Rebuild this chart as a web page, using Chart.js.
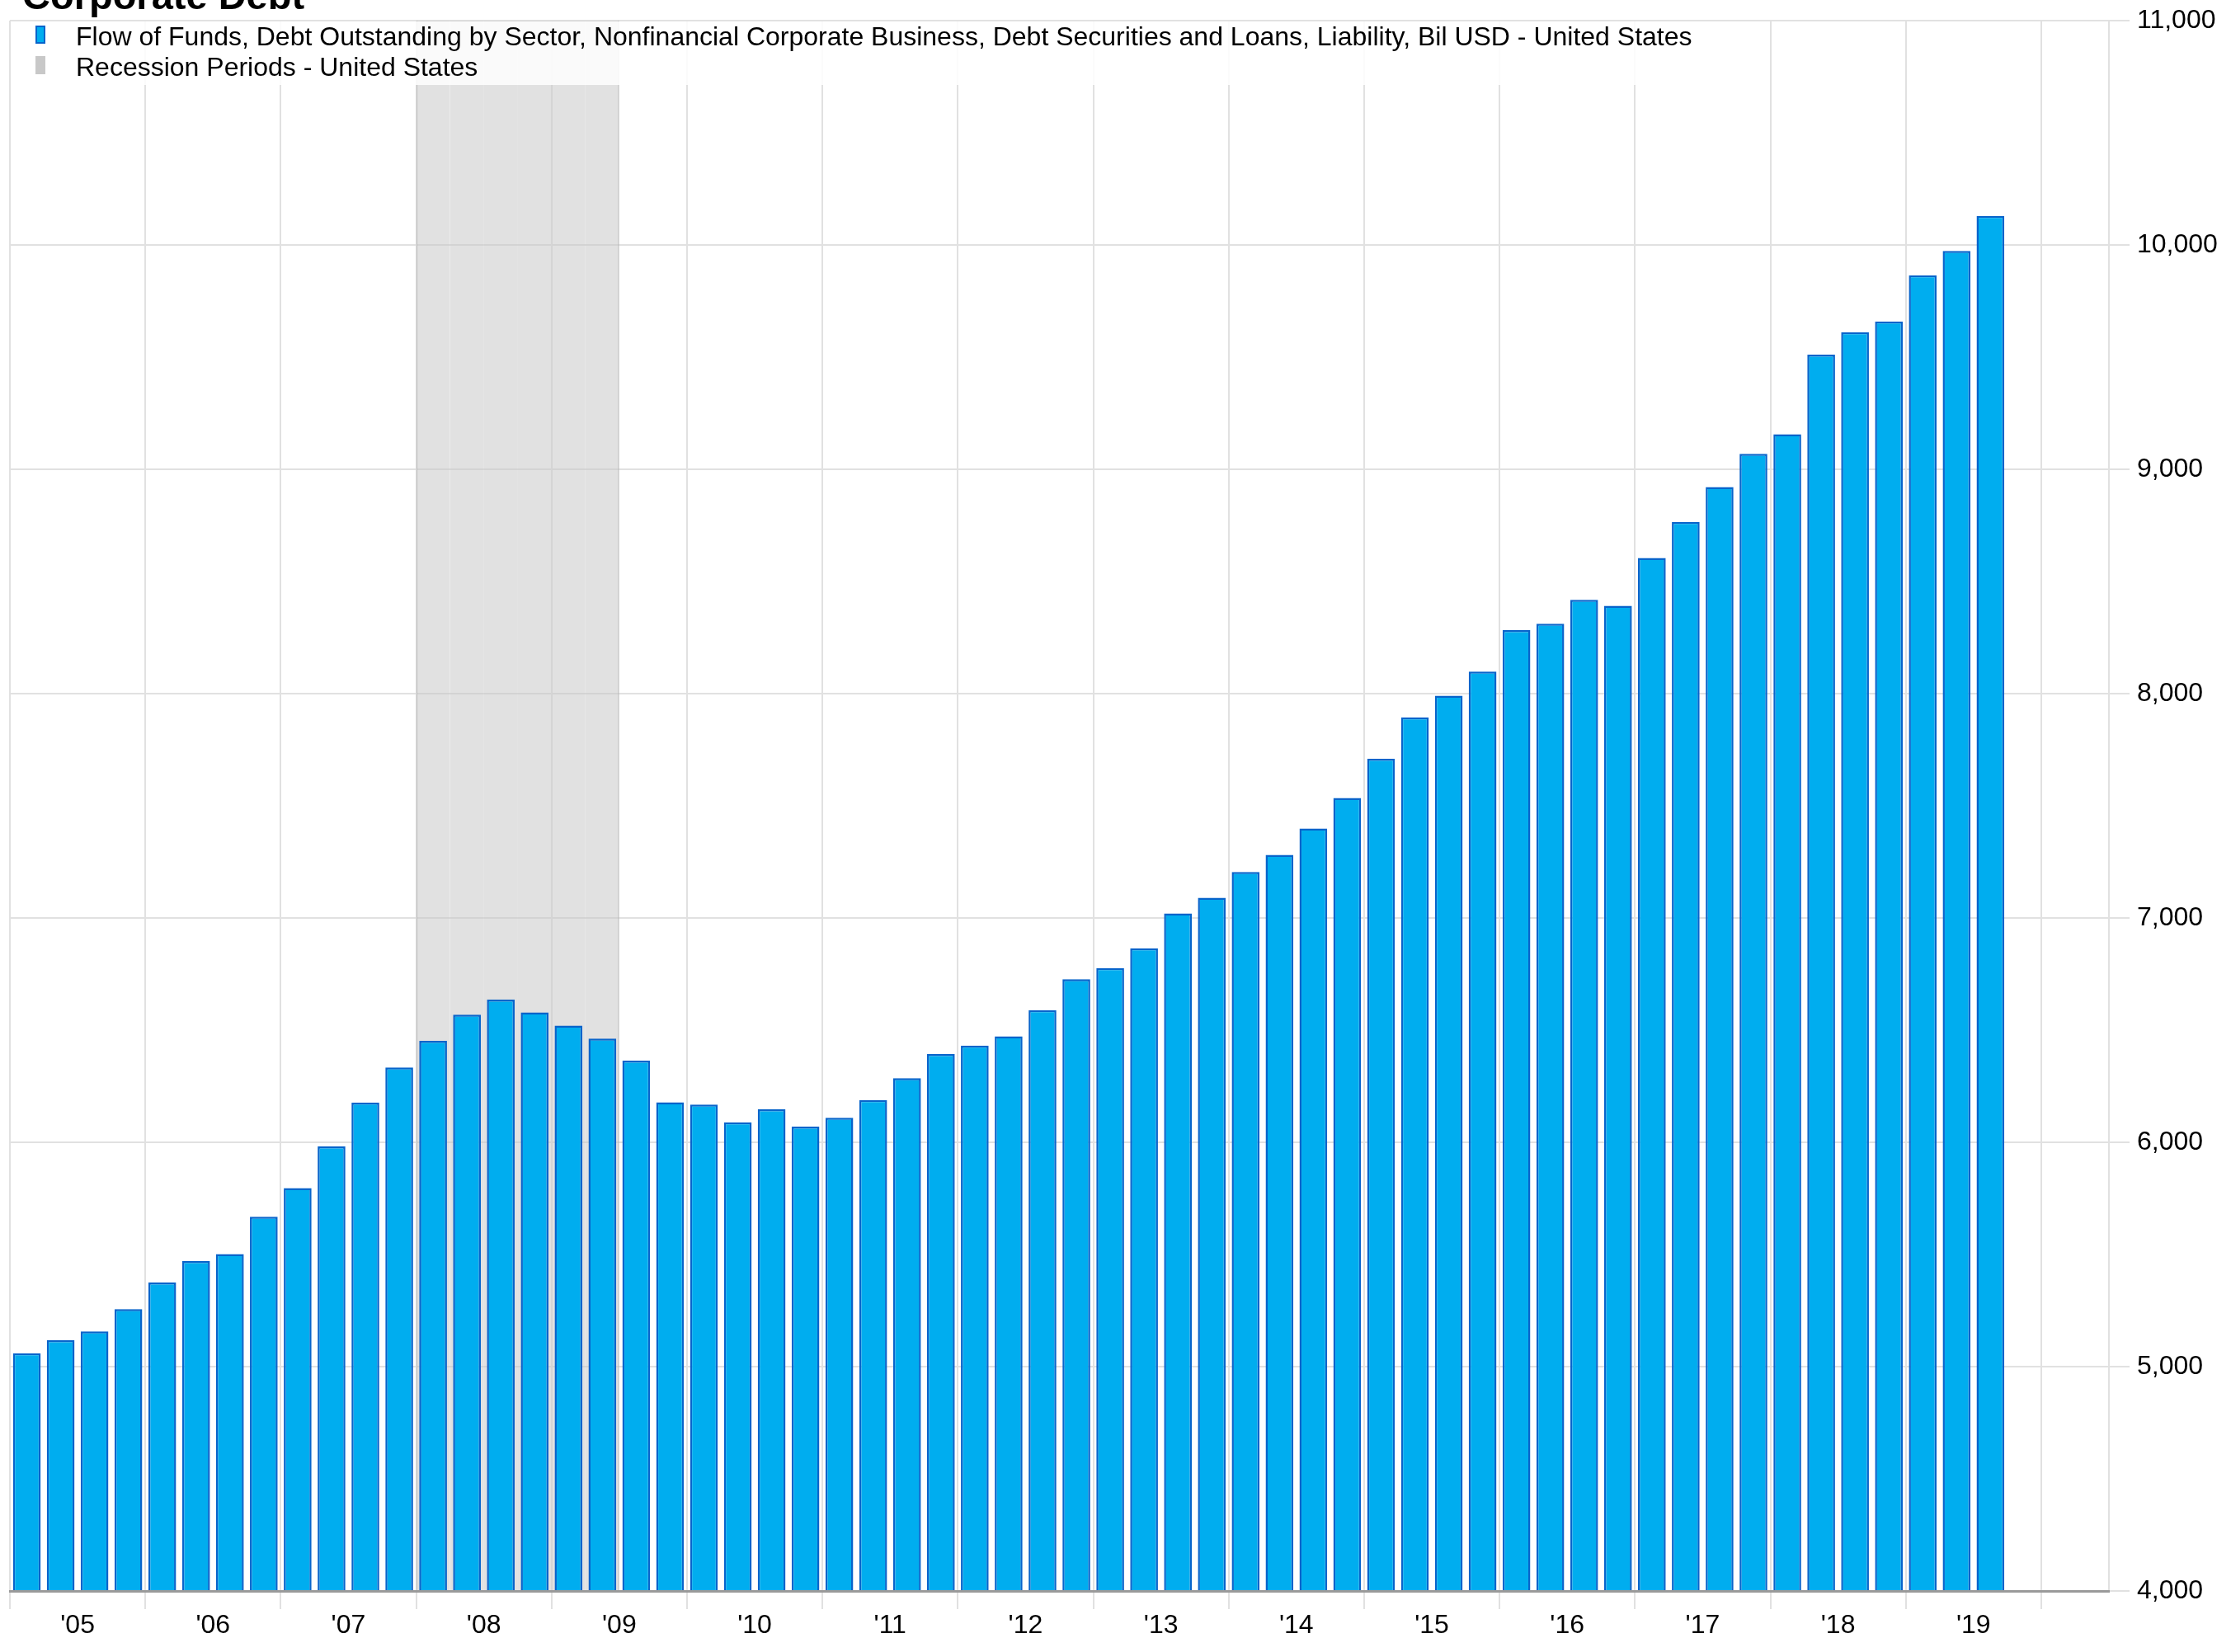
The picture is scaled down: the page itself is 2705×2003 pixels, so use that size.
<!DOCTYPE html>
<html>
<head>
<meta charset="utf-8">
<script src="https://cdn.jsdelivr.net/npm/chart.js@4.4.1/dist/chart.umd.min.js"></script>
<style>
	html, body { margin: 0; padding: 0; background: #ffffff; }
	#chart { display: block; }
</style>
</head>
<body>
<canvas id="chart" width="2705" height="2003"></canvas>
<script>
"use strict";

const chartTitle = "Corporate Debt";
const seriesLabel = "Flow of Funds, Debt Outstanding by Sector, Nonfinancial Corporate Business, Debt Securities and Loans, Liability, Bil USD - United States";
const recessionLabel = "Recession Periods - United States";

// one slot per quarter, 2005 Q1 .. 2020 Q2 (axis runs a bit past the data)
const years = [2005, 2006, 2007, 2008, 2009, 2010, 2011, 2012, 2013, 2014, 2015, 2016, 2017, 2018, 2019, 2020];
const quarters = ["Q1", "Q2", "Q3", "Q4"];
const yearLabels = ["'05", "'06", "'07", "'08", "'09", "'10", "'11", "'12", "'13", "'14", "'15", "'16", "'17", "'18", "'19"];

// Bil USD, quarterly
const debt = [
	5060, 5118, 5157, 5256,
	5375, 5471, 5502, 5668,
	5796, 5982, 6177, 6334,
	6452, 6569, 6636, 6579,
	6520, 6462, 6364, 6178,
	6168, 6089, 6147, 6070,
	6109, 6188, 6286, 6393,
	6431, 6472, 6589, 6727,
	6777, 6865, 7020, 7090,
	7205, 7281, 7399, 7535,
	7710, 7894, 7991, 8098,
	8283, 8312, 8418, 8392,
	8605, 8766, 8921, 9069,
	9156, 9511, 9611, 9659,
	9865, 9973, 10130,
];

// 1 = quarter inside a US recession
const recession = [
	0, 0, 0, 0,
	0, 0, 0, 0,
	0, 0, 0, 0,
	1, 1, 1, 1,
	1, 1, 0, 0,
];

const yTicks = [4000, 5000, 6000, 7000, 8000, 9000, 10000, 11000];

const labels = [];
for (const y of years) {
	for (const q of quarters) {
		labels.push(`${y} ${q}`);
	}
}
const nSlots = labels.length - 2; // stops at 2020 Q2

const slotLabels = labels.slice(0, nSlots);
const yMin = yTicks[0];
const yMax = yTicks[yTicks.length - 1];

const FONT = '"Liberation Sans", Arial, Helvetica, sans-serif';
const BAR_FILL = "#00adef";
const BAR_EDGE = "#0864cb";
const GRID = "#e1e1e1";

const recFirst = recession.indexOf(1);
const recLast = recession.lastIndexOf(1);

const overlayPlugin = {
	id: "overlay",
	afterDraw(chart) {
		const ctx = chart.ctx;
		const area = chart.chartArea;
		ctx.save();

		// title, mostly above the canvas edge
		ctx.font = `bold 47px ${FONT}`;
		ctx.fillStyle = "#000000";
		ctx.textBaseline = "alphabetic";
		ctx.textAlign = "left";
		ctx.fillText(chartTitle, 27, 11);

		// legend box sitting on top of the plot
		ctx.font = `32px ${FONT}`;
		const items = chart.data.datasets.map(ds => ({
			text: ds.label,
			fill: ds.legendFill,
			edge: ds.legendEdge,
		}));
		const textX = 92;
		let w = 0;
		for (const it of items) {
			w = Math.max(w, ctx.measureText(it.text).width);
		}
		ctx.fillStyle = "rgba(255,255,255,0.86)";
		ctx.fillRect(area.left + 1, area.top + 1, textX + w + 14 - area.left, 77);

		items.forEach((it, i) => {
			const y = 31 + i * 37;
			ctx.fillStyle = it.fill;
			ctx.fillRect(43, y, 12, 22);
			if (it.edge) {
				ctx.strokeStyle = it.edge;
				ctx.lineWidth = 2;
				ctx.strokeRect(44, y + 1, 10, 20);
			}
			ctx.fillStyle = "#000000";
			ctx.fillText(it.text, textX, 55 + i * 37);
		});

		ctx.restore();
	},
};

const chart = new Chart(
	document.getElementById("chart"),
	{
		type: "bar",
		plugins: [overlayPlugin],
		data: {
			labels: slotLabels,
			datasets: [
				{
					label: seriesLabel,
					data: debt,
					backgroundColor: BAR_FILL,
					borderColor: BAR_EDGE,
					borderWidth: 2.5,
					borderSkipped: "bottom",
					barPercentage: 0.82,
					categoryPercentage: 1,
					grouped: false,
					order: 1,
					legendFill: BAR_FILL,
					legendEdge: BAR_EDGE,
				},
				{
					label: recessionLabel,
					data: recession.map(r => r ? yMax : null),
					backgroundColor: "rgba(200,200,200,0.55)",
					borderColor: "rgba(185,185,185,0.7)",
					borderWidth: c => ({
						left: c.dataIndex === recFirst ? 2 : 0,
						right: c.dataIndex === recLast ? 2 : 0,
						top: 0,
						bottom: 0,
					}),
					inflateAmount: 0,
					barPercentage: 1,
					categoryPercentage: 1,
					grouped: false,
					order: 2,
					legendFill: "#c8c8c8",
					legendEdge: null,
				},
			],
		},
		options: {
			responsive: false,
			animation: false,
			devicePixelRatio: 1,
			layout: {
				padding: { left: 12, top: 20, right: 0, bottom: 0 },
			},
			plugins: {
				legend: { display: false },
				title: { display: false },
				tooltip: { enabled: false },
			},
			scales: {
				x: {
					type: "category",
					offset: true,
					grid: {
						offset: true,
						color: c => (c.index % 4 === 0 ? GRID : "rgba(0,0,0,0)"),
						lineWidth: 2,
						tickLength: 22,
					},
					border: {
						display: true,
						color: "#9a9a9a",
						width: 3,
						z: 1,
					},
					ticks: {
						autoSkip: false,
						maxRotation: 0,
						minRotation: 0,
						padding: 4,
						labelOffset: 20.5,
						color: "#000000",
						font: { family: FONT, size: 32, lineHeight: 1 },
						callback: (v, i) => {
							if (i % 4 !== 1) return "";
							const y = yearLabels[Math.floor(i / 4)];
							return y === undefined ? "" : y;
						},
					},
					afterFit: scale => { scale.height = 74; },
				},
				y: {
					position: "right",
					min: yMin,
					max: yMax,
					afterBuildTicks: scale => {
						scale.ticks = yTicks.map(v => ({ value: v }));
					},
					grid: {
						color: GRID,
						lineWidth: 2,
						tickLength: 25,
					},
					border: {
						display: true,
						color: GRID,
						width: 2,
					},
					ticks: {
						padding: 9,
						color: "#000000",
						font: { family: FONT, size: 32, lineHeight: 1 },
						callback: v => v.toLocaleString("en-US"),
					},
					afterFit: scale => { scale.width = 148; },
				},
			},
		},
	}
);
</script>
</body>
</html>
